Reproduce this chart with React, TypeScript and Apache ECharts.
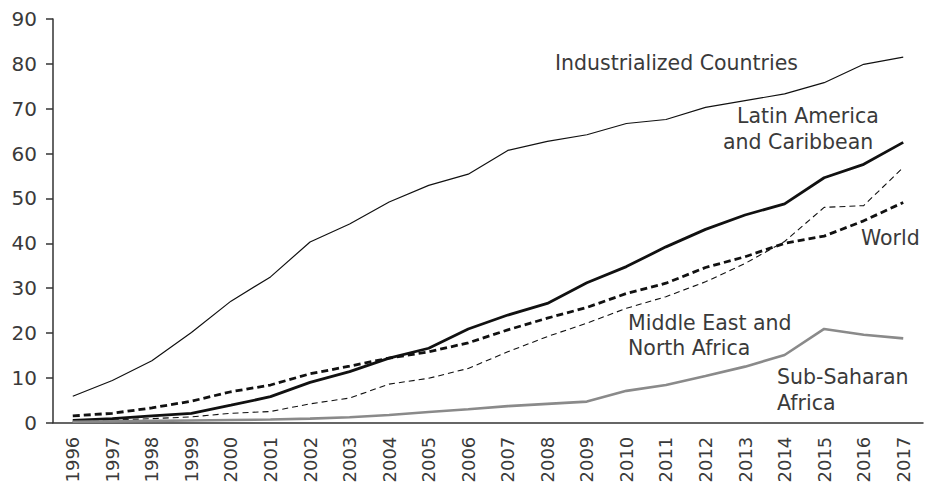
import React, { useEffect, useRef } from "react";
import * as echarts from "echarts";

const years = ["1996","1997","1998","1999","2000","2001","2002","2003","2004","2005","2006","2007","2008","2009","2010","2011","2012","2013","2014","2015","2016","2017"];

const industrialized = [5.9, 9.4, 13.8, 20.1, 27.1, 32.5, 40.3, 44.3, 49.2, 52.9, 55.4, 60.7, 62.7, 64.2, 66.7, 67.6, 70.3, 71.8, 73.3, 75.8, 79.9, 81.5];
const latinAmerica = [0.5, 0.9, 1.5, 2.1, 3.9, 5.8, 9.0, 11.4, 14.4, 16.6, 20.9, 24.0, 26.6, 31.2, 34.8, 39.2, 43.1, 46.3, 48.8, 54.6, 57.6, 62.5];
const world = [1.5, 2.1, 3.3, 4.8, 6.9, 8.4, 10.9, 12.6, 14.4, 15.8, 17.8, 20.7, 23.3, 25.7, 28.8, 31.1, 34.6, 37.0, 40.0, 41.6, 45.0, 49.1];
const mena = [0.3, 0.6, 0.9, 1.3, 2.1, 2.5, 4.2, 5.5, 8.6, 9.9, 12.1, 15.8, 19.2, 22.2, 25.5, 28.1, 31.4, 35.5, 40.4, 48.0, 48.4, 56.9];
const subSaharan = [0.2, 0.3, 0.4, 0.5, 0.6, 0.7, 0.9, 1.2, 1.7, 2.4, 3.0, 3.7, 4.2, 4.7, 7.1, 8.4, 10.4, 12.5, 15.1, 20.9, 19.6, 18.8];

const yTicks = { min: 0, max: 90, interval: 10 };

const FONT = "DejaVu Sans";
const TXT = "#3a3a3a";
const FS = 20.5;

function label(text: string, x: number, y: number) {
  return {
    type: "text",
    x,
    y,
    silent: true,
    style: {
      text,
      fill: TXT,
      font: `${FS}px "${FONT}"`,
      textAlign: "left",
      textVerticalAlign: "middle",
    },
  };
}

export default function App() {
  const ref = useRef<HTMLDivElement>(null);
  useEffect(() => {
    if (!ref.current) return;
    const chart = echarts.init(ref.current, undefined, { renderer: "svg" });
    chart.setOption({
      animation: false,
      backgroundColor: "#ffffff",
      grid: { left: 53, right: 4, top: 19, bottom: 65.3, containLabel: false, outerBoundsMode: "none" },
      xAxis: {
        type: "category",
        data: years,
        boundaryGap: true,
        axisLine: { lineStyle: { color: "#333333", width: 1.5 } },
        axisTick: { alignWithLabel: true, length: 7, lineStyle: { color: "#333333", width: 1.5 } },
        axisLabel: { rotate: 90, margin: 14, color: TXT, fontSize: 18, fontFamily: FONT, interval: 0 },
        splitLine: { show: false },
      },
      yAxis: {
        type: "value",
        min: yTicks.min,
        max: yTicks.max,
        interval: yTicks.interval,
        axisLine: { show: true, lineStyle: { color: "#333333", width: 1.5 } },
        axisTick: { show: true, length: 7, lineStyle: { color: "#333333", width: 1.5 } },
        axisLabel: { margin: 16, color: TXT, fontSize: 20, fontFamily: FONT },
        splitLine: { show: false },
      },
      series: [
        { name: "Industrialized Countries", type: "line", data: industrialized, symbol: "none", lineStyle: { color: "#111111", width: 1.2 } },
        { name: "Latin America and Caribbean", type: "line", data: latinAmerica, symbol: "none", lineStyle: { color: "#111111", width: 2.8 } },
        { name: "Middle East and North Africa", type: "line", data: mena, symbol: "none", lineStyle: { color: "#111111", width: 1.1, type: [6, 4] } },
        { name: "World", type: "line", data: world, symbol: "none", lineStyle: { color: "#111111", width: 2.8, type: [7, 4] } },
        { name: "Sub-Saharan Africa", type: "line", data: subSaharan, symbol: "none", lineStyle: { color: "#8a8a8a", width: 2.6 } },
      ],
      graphic: [
        label("Industrialized Countries", 555, 62.5),
        label("Latin America", 737, 116),
        label("and Caribbean", 723, 142),
        label("World", 861, 238),
        label("Middle East and", 628, 323),
        label("North Africa", 628, 348),
        label("Sub-Saharan", 777, 377),
        label("Africa", 777, 403),
      ],
    });
    return () => chart.dispose();
  }, []);
  return <div ref={ref} style={{ width: 927, height: 488, position: "absolute", left: 0, top: 0 }} />;
}
